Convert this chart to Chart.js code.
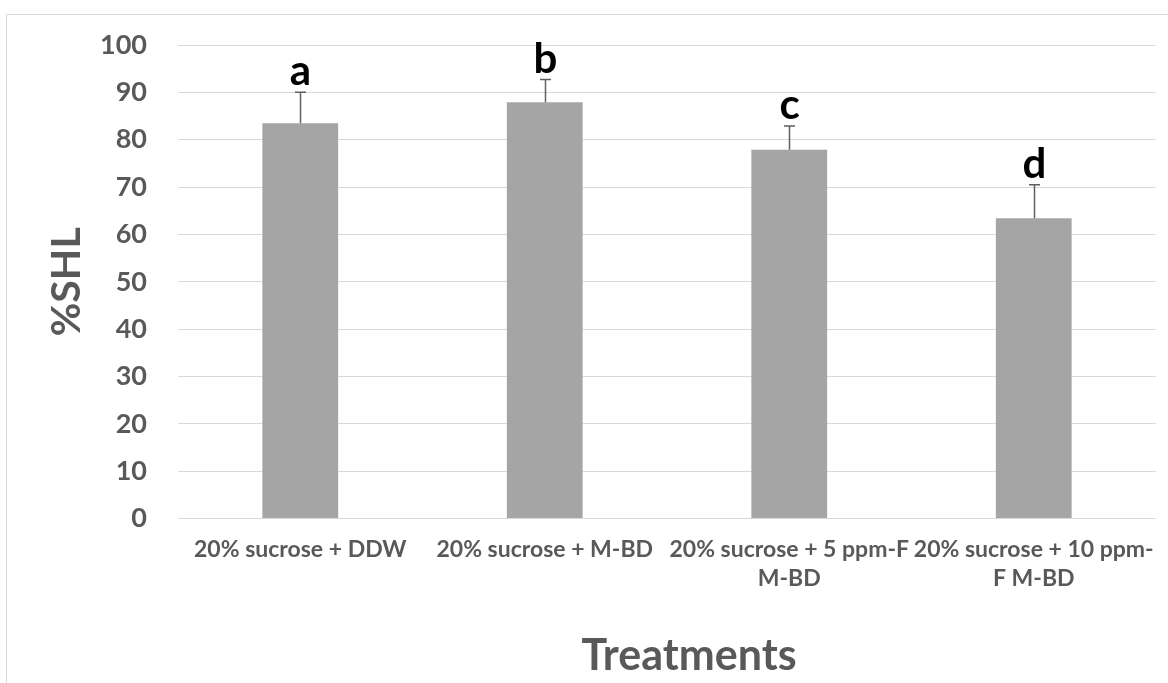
<!DOCTYPE html>
<html>
<head>
<meta charset="utf-8">
<title>%SHL by treatment</title>
<script src="https://cdn.jsdelivr.net/npm/chart.js@4"></script>
<style>
  html, body { margin: 0; padding: 0; background: #ffffff; }
  #wrap { width: 1168px; height: 683px; position: relative; }
</style>
</head>
<body>
<div id="wrap"><canvas id="chart" width="1168" height="683"></canvas></div>
<script>
// Treatment groups (multi-line tick labels)
const categories = [
  ['20% sucrose + DDW'],
  ['20% sucrose + M-BD'],
  ['20% sucrose + 5 ppm-F', 'M-BD'],
  ['20% sucrose + 10 ppm-', 'F M-BD']
];
// Mean %SHL per treatment
const shlValues = [83.5, 87.9, 77.9, 63.4];
// Upper error (standard deviation)
const shlErrors = [6.5, 4.8, 5.0, 7.1];
// Significance letters
const groupLetters = ['a', 'b', 'c', 'd'];
// Y axis ticks
const yTicks = [0, 10, 20, 30, 40, 50, 60, 70, 80, 90, 100];

const FONT = 'Lato, "Open Sans", "DejaVu Sans", sans-serif';
const TEXT_GREY = '#595959';
const GRID_GREY = '#D9D9D9';

// Outer chart frame (top and left edges visible)
const framePlugin = {
  id: 'frame',
  beforeDraw(chart) {
    const ctx = chart.ctx;
    ctx.save();
    ctx.strokeStyle = GRID_GREY;
    ctx.lineWidth = 1;
    ctx.beginPath();
    ctx.moveTo(6.5, chart.height);
    ctx.lineTo(6.5, 14.5);
    ctx.lineTo(chart.width, 14.5);
    ctx.stroke();
    ctx.restore();
  }
};

// Upper error bars with caps, plus letters above them
const errorBarPlugin = {
  id: 'errorBars',
  afterDatasetsDraw(chart) {
    const ctx = chart.ctx;
    const meta = chart.getDatasetMeta(0);
    const y = chart.scales.y;
    ctx.save();
    ctx.strokeStyle = '#5f5f5f';
    ctx.lineWidth = 1.5;
    meta.data.forEach((bar, i) => {
      const x = Math.round(bar.x) + 0.5;
      const yBase = y.getPixelForValue(shlValues[i]);
      const yTop = y.getPixelForValue(shlValues[i] + shlErrors[i]);
      ctx.beginPath();
      ctx.moveTo(x, yBase);
      ctx.lineTo(x, yTop);
      ctx.moveTo(x - 5.5, yTop);
      ctx.lineTo(x + 5.5, yTop);
      ctx.stroke();
      ctx.fillStyle = '#000000';
      ctx.font = 'bold 42px ' + FONT;
      ctx.textAlign = 'center';
      ctx.textBaseline = 'alphabetic';
      ctx.fillText(groupLetters[i], x, yTop - 7);
    });
    ctx.restore();
  }
};

// X axis title, set slightly right of the plot centre
const xTitlePlugin = {
  id: 'xTitle',
  afterDraw(chart) {
    const ctx = chart.ctx;
    const area = chart.chartArea;
    ctx.save();
    ctx.fillStyle = TEXT_GREY;
    ctx.font = 'bold 43px ' + FONT;
    ctx.textAlign = 'center';
    ctx.textBaseline = 'middle';
    ctx.fillText('Treatments', (area.left + area.right) / 2 + 22, 656);
    ctx.restore();
  }
};

new Chart(document.getElementById('chart'), {
  type: 'bar',
  data: {
    labels: categories,
    datasets: [{
      data: shlValues,
      backgroundColor: '#A5A5A5',
      borderWidth: 0,
      categoryPercentage: 1,
      barPercentage: 0.31
    }]
  },
  options: {
    responsive: false,
    devicePixelRatio: 1,
    animation: false,
    layout: { padding: { top: 45, right: 12, left: 0, bottom: 0 } },
    plugins: {
      legend: { display: false },
      tooltip: { enabled: false }
    },
    scales: {
      x: {
        grid: { display: false, drawTicks: false },
        border: { display: false },
        ticks: {
          color: TEXT_GREY,
          font: { family: FONT, size: 23, weight: 'bold', lineHeight: 1.25 },
          padding: 17,
          maxRotation: 0,
          autoSkip: false
        },
        afterFit(scale) {
          scale.height = 164.4;
          scale.paddingLeft = 0;
          scale.paddingRight = 0;
        }
      },
      y: {
        min: 0,
        max: 100,
        afterBuildTicks(scale) { scale.ticks = yTicks.map(v => ({ value: v })); },
        grid: { color: GRID_GREY, lineWidth: 1, drawTicks: false },
        border: { display: false },
        ticks: {
          color: TEXT_GREY,
          font: { family: FONT, size: 27, weight: 'bold' },
          padding: 31
        },
        title: {
          display: true,
          text: '%SHL',
          color: TEXT_GREY,
          font: { family: FONT, size: 41, weight: 'bold' },
          padding: { top: 42, bottom: 0 }
        },
        afterFit(scale) {
          scale.width = 178;
          scale.paddingTop = 0;
          scale.paddingBottom = 0;
        }
      }
    }
  },
  plugins: [framePlugin, errorBarPlugin, xTitlePlugin]
});
</script>
</body>
</html>
